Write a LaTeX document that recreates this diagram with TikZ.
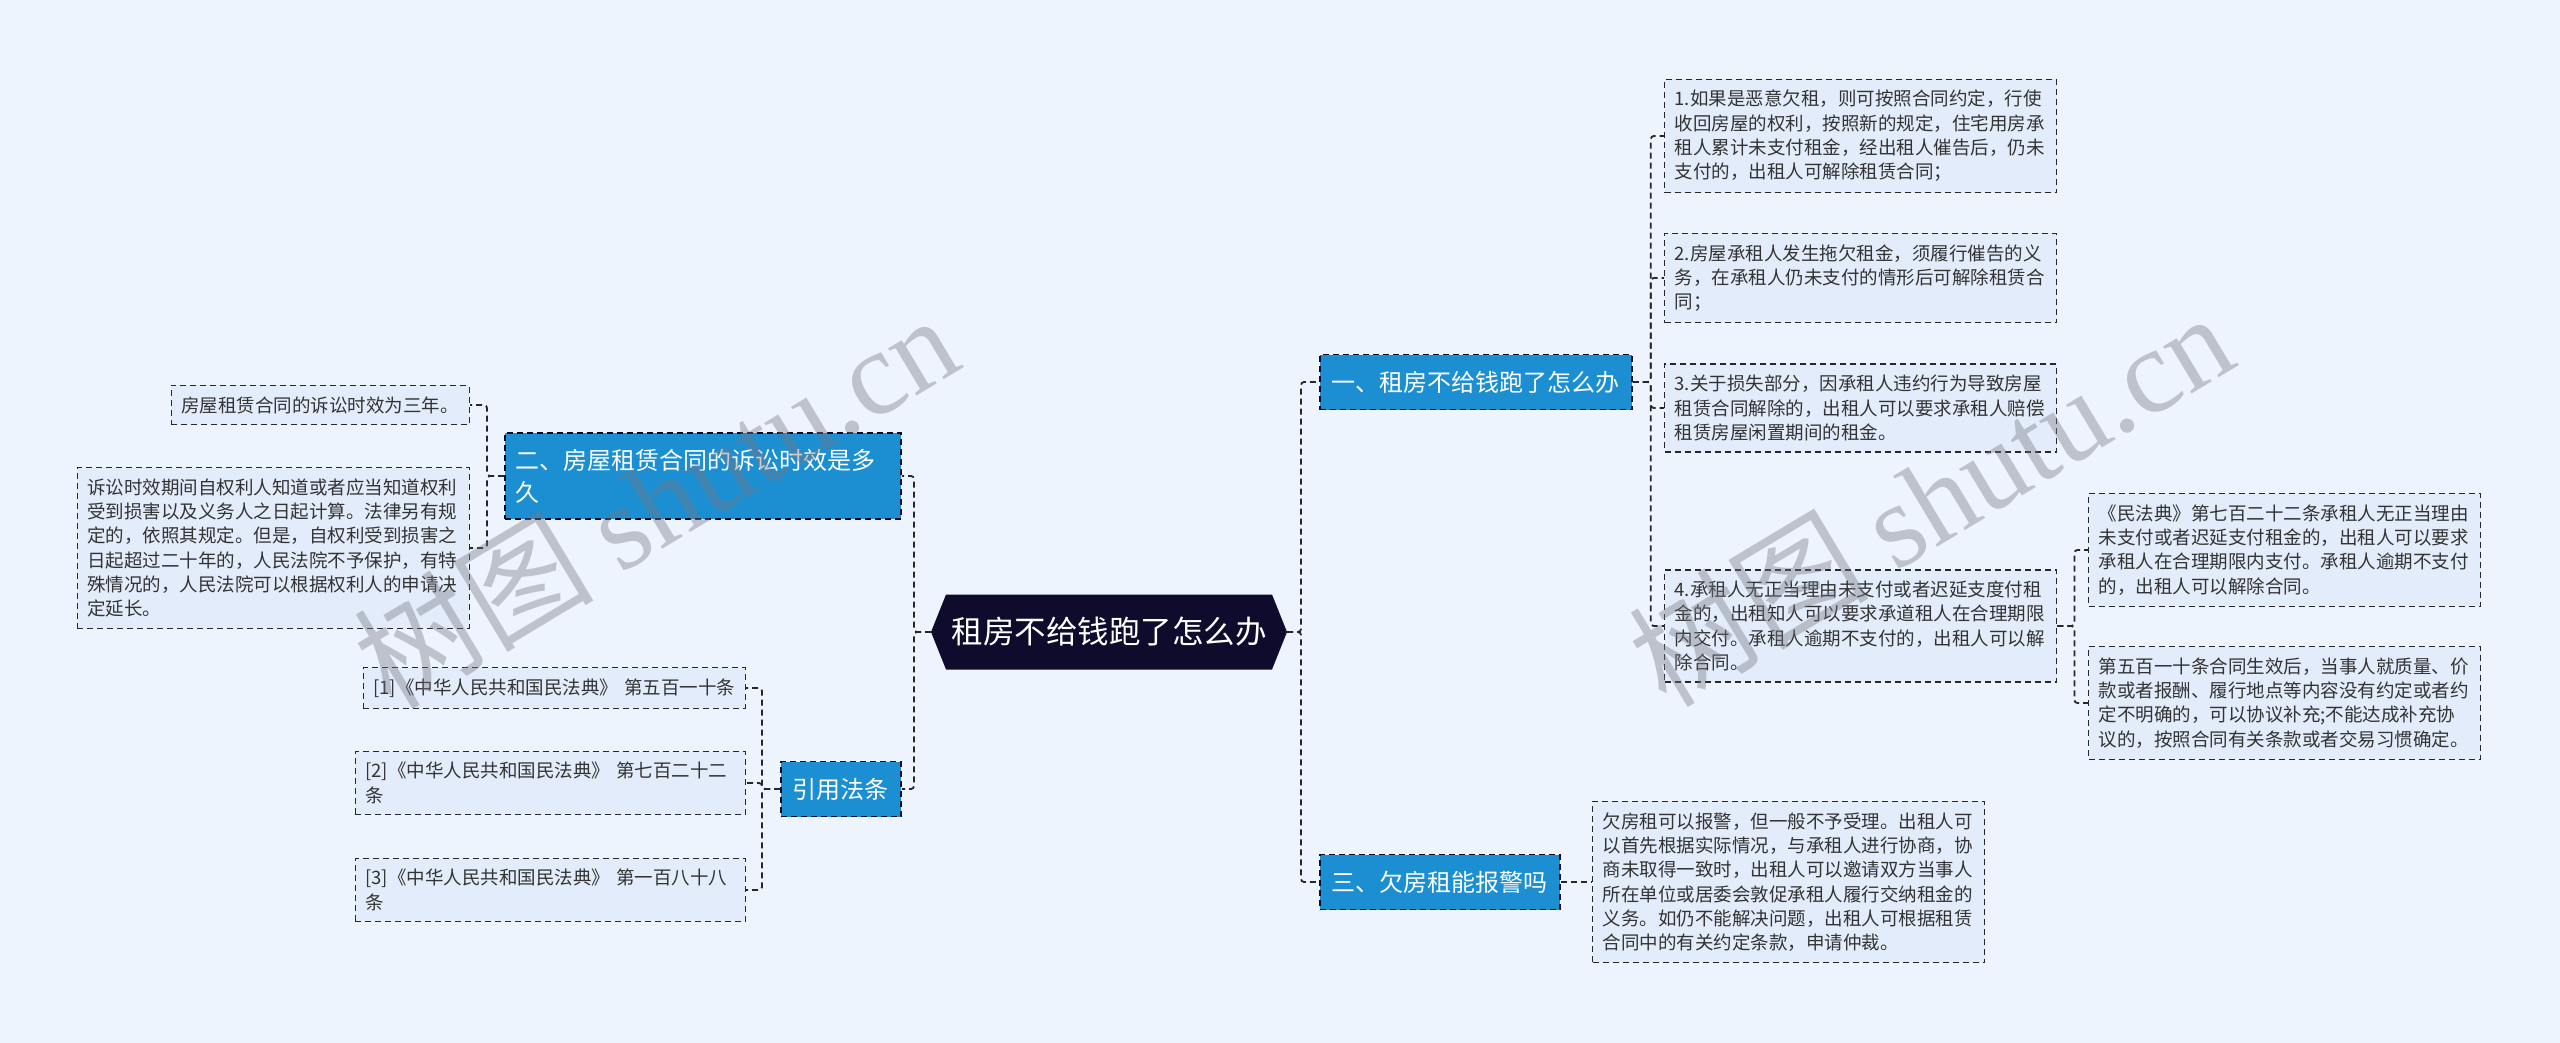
\documentclass[tikz,border=0pt]{standalone}
\usepackage{fontspec}
\setmainfont{Noto Sans CJK SC}
\newfontfamily\wmserif{Liberation Serif}
\usetikzlibrary{backgrounds,calc}
\definecolor{bgc}{RGB}{238,244,254}
\definecolor{boxc}{RGB}{227,236,251}
\definecolor{bluec}{RGB}{27,143,209}
\definecolor{rootc}{RGB}{14,11,45}
\definecolor{linec}{RGB}{38,38,44}
\definecolor{textc}{RGB}{51,51,51}
\definecolor{wmc}{RGB}{120,120,130}
\begin{document}
\begin{tikzpicture}[x=1pt,y=-1pt,
  conn/.style={draw=linec, line width=1.8pt, dash pattern=on 6pt off 4pt, rounded corners=3pt},
  leaf/.style={draw=linec, line width=1.4pt, dash pattern=on 6pt off 4pt, fill=boxc, text=textc,
    font=\fontsize{18.5}{24.3}\selectfont, align=left, inner xsep=10pt, inner ysep=11pt, anchor=west},
  topic/.style={draw=rootc, line width=1.8pt, dash pattern=on 6pt off 4pt, fill=bluec, text=white,
    font=\fontsize{24}{32}\selectfont, inner xsep=10pt, inner ysep=0pt, minimum height=55pt},
  rootnode/.style={text=white, font=\fontsize{31.5}{38}\selectfont, inner sep=0pt},
  wm/.style={text=wmc, opacity=0.4, font=\fontsize{120}{130}\selectfont, rotate=31}
]
\useasboundingbox (0,0) rectangle (2560,1043);

% root
\node[rootnode] (root) at (1109,632) {租房不给钱跑了怎么办};
\coordinate (rootL) at ($(root.center)+(-178,0)$);
\coordinate (rootR) at ($(root.center)+(178,0)$);
\coordinate (rootTL) at ($(root.center)+(-163,-37.5)$);
\coordinate (rootTR) at ($(root.center)+(163,-37.5)$);
\coordinate (rootBL) at ($(root.center)+(-163,37.5)$);
\coordinate (rootBR) at ($(root.center)+(163,37.5)$);

% right topics
\node[topic, anchor=west, minimum width=312pt] (b1) at (1319,382) {一、租房不给钱跑了怎么办};
\node[topic, anchor=west, minimum width=240pt] (b3) at (1319,882) {三、欠房租能报警吗};

% children of b1
\node[leaf, text width=372pt] (c1) at (1664,136) {1.如果是恶意欠租，则可按照合同约定，行使\\收回房屋的权利，按照新的规定，住宅用房承\\租人累计未支付租金，经出租人催告后，仍未\\支付的，出租人可解除租赁合同；};
\node[leaf, text width=372pt] (c2) at (1664,278) {2.房屋承租人发生拖欠租金，须履行催告的义\\务，在承租人仍未支付的情形后可解除租赁合\\同；};
\node[leaf, text width=372pt] (c3) at (1664,408) {3.关于损失部分，因承租人违约行为导致房屋\\租赁合同解除的，出租人可以要求承租人赔偿\\租赁房屋闲置期间的租金。};
\node[leaf, text width=372pt] (c4) at (1664,626) {4.承租人无正当理由未支付或者迟延支度付租\\金的，出租知人可以要求承道租人在合理期限\\内交付。承租人逾期不支付的，出租人可以解\\除合同。};

% children of c4
\node[leaf, text width=372pt] (d1) at (2088,550) {《民法典》第七百二十二条承租人无正当理由\\未支付或者迟延支付租金的，出租人可以要求\\承租人在合理期限内支付。承租人逾期不支付\\的，出租人可以解除合同。};
\node[leaf, text width=372pt] (d2) at (2088,703) {第五百一十条合同生效后，当事人就质量、价\\款或者报酬、履行地点等内容没有约定或者约\\定不明确的，可以协议补充;不能达成补充协\\议的，按照合同有关条款或者交易习惯确定。};

% child of b3
\node[leaf, text width=372pt] (e1) at (1592,882) {欠房租可以报警，但一般不予受理。出租人可\\以首先根据实际情况，与承租人进行协商，协\\商未取得一致时，出租人可以邀请双方当事人\\所在单位或居委会敦促承租人履行交纳租金的\\义务。如仍不能解决问题，出租人可根据租赁\\合同中的有关约定条款，申请仲裁。};

% left topics
\node[topic, anchor=west, minimum width=396pt, minimum height=86pt, text width=374pt, align=left, inner ysep=15pt] (l1) at (504,476) {二、房屋租赁合同的诉讼时效是多\\久};
\node[topic, anchor=west, minimum width=120pt] (l2) at (780,789) {引用法条};

% children of l1
\node[leaf, anchor=east, text width=278pt] (m1) at (470,405) {房屋租赁合同的诉讼时效为三年。};
\node[leaf, anchor=east, text width=372pt] (m2) at (470,548) {诉讼时效期间自权利人知道或者应当知道权利\\受到损害以及义务人之日起计算。法律另有规\\定的，依照其规定。但是，自权利受到损害之\\日起超过二十年的，人民法院不予保护，有特\\殊情况的，人民法院可以根据权利人的申请决\\定延长。};

% children of l2
\node[leaf, anchor=east, text width=362pt] (n1) at (746,688) {[1]《中华人民共和国民法典》 第五百一十条};
\node[leaf, anchor=east, text width=370pt] (n2) at (746,783) {[2]《中华人民共和国民法典》 第七百二十二\\条};
\node[leaf, anchor=east, text width=370pt] (n3) at (746,890) {[3]《中华人民共和国民法典》 第一百八十八\\条};

% backgrounds
\begin{scope}[on background layer]
  \fill[bgc] (0,0) rectangle (2560,1043);
  \fill[rootc] (rootTL) -- (rootTR) -- (rootR) -- (rootBR) -- (rootBL) -- (rootL) -- cycle;
\end{scope}

% connectors
\draw[conn] (rootR) -- ++(14,0) |- (b1.west);
\draw[conn] (rootR) -- ++(14,0) |- (b3.west);
\draw[conn] (b1.east) -- ++(18,0) |- (c1.west);
\draw[conn] (b1.east) -- ++(18,0) |- (c2.west);
\draw[conn] (b1.east) -- ++(18,0) |- (c3.west);
\draw[conn] (b1.east) -- ++(18,0) |- (c4.west);
\draw[conn] (c4.east) -- ++(17,0) |- (d1.west);
\draw[conn] (c4.east) -- ++(17,0) |- (d2.west);
\draw[conn] (b3.east) -- (e1.west);
\draw[conn] (rootL) -- ++(-17,0) |- (l1.east);
\draw[conn] (rootL) -- ++(-17,0) |- (l2.east);
\draw[conn] (l1.west) -- ++(-17,0) |- (m1.east);
\draw[conn] (l1.west) -- ++(-17,0) |- (m2.east);
\draw[conn] (l2.west) -- ++(-18,0) |- (n1.east);
\draw[conn] (l2.west) -- ++(-18,0) |- (n2.east);
\draw[conn] (l2.west) -- ++(-18,0) |- (n3.east);

% watermarks
\node[wm] (wm1) at (655,500) {树图 {\wmserif shutu.cn}};
\node[wm] (wm2) at (1930,498) {树图 {\wmserif shutu.cn}};
\end{tikzpicture}
\end{document}
